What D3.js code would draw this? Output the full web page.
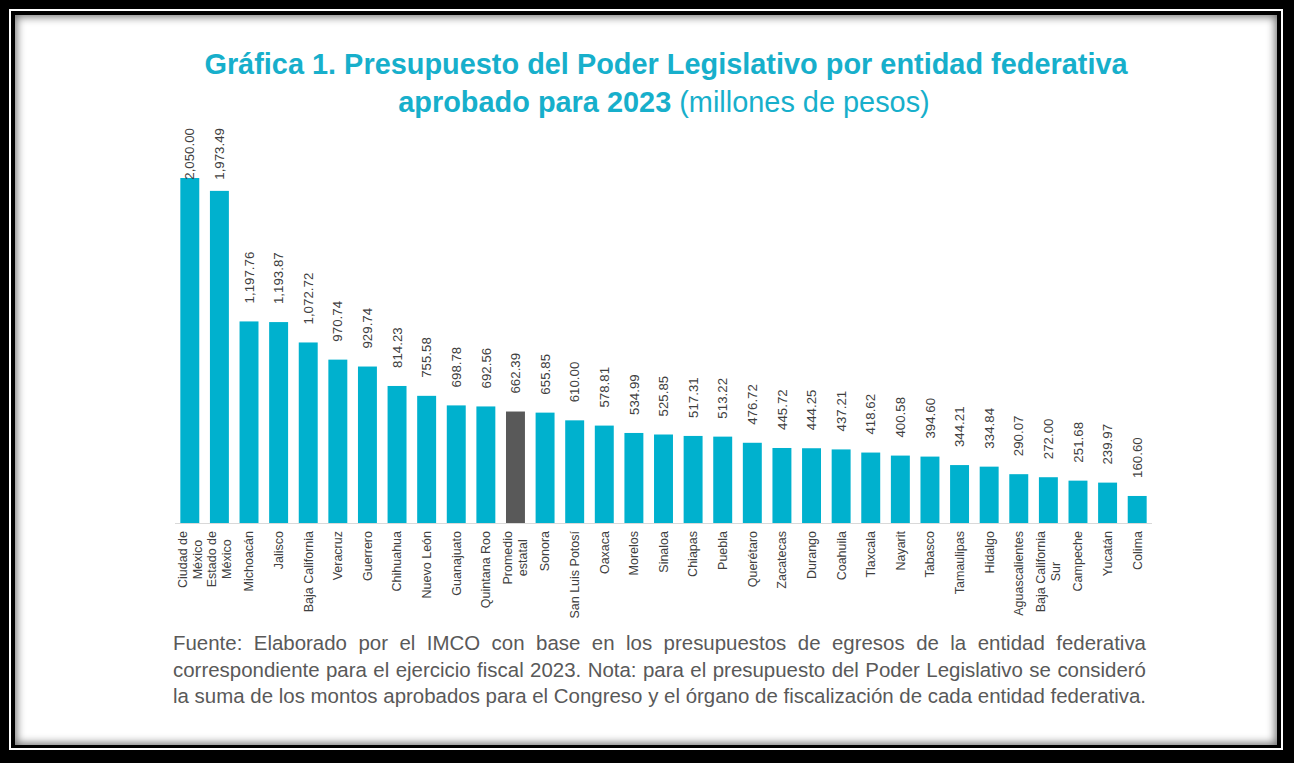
<!DOCTYPE html>
<html>
<head>
<meta charset="utf-8">
<script src="https://cdn.jsdelivr.net/npm/d3@7"></script>
<style>
    body { margin: 0; background: #000; width: 1294px; height: 763px; overflow: hidden; position: relative; }
    .frame { position: absolute; }
    #f1 { left: 9px; top: 9px; width: 1274px; height: 741px; background: #fff; }
    #f2 { left: 11px; top: 11px; width: 1270px; height: 737px; background: #000; }
    #f3 { left: 15px; top: 15px; width: 1262px; height: 730px; background: #fff;
          box-shadow: inset 0 0 9px 2px rgba(0, 0, 0, 0.55); }
    #chart { position: absolute; left: 0; top: 0; }
    text { font-family: "Liberation Sans", Arial, sans-serif; }
</style>
</head>
<body>
<div class="frame" id="f1"></div>
<div class="frame" id="f2"></div>
<div class="frame" id="f3"></div>
<div id="chart"></div>
<script>
// estados y presupuesto aprobado 2023 (millones de pesos)
const states = [
    ['Ciudad de', 'México'], ['Estado de', 'México'], ['Michoacán'], ['Jalisco'],
    ['Baja California'], ['Veracruz'], ['Guerrero'], ['Chihuahua'], ['Nuevo León'],
    ['Guanajuato'], ['Quintana Roo'], ['Promedio', 'estatal'], ['Sonora'],
    ['San Luis Potosí'], ['Oaxaca'], ['Morelos'], ['Sinaloa'], ['Chiapas'], ['Puebla'],
    ['Querétaro'], ['Zacatecas'], ['Durango'], ['Coahuila'], ['Tlaxcala'], ['Nayarit'],
    ['Tabasco'], ['Tamaulipas'], ['Hidalgo'], ['Aguascalientes'],
    ['Baja California', 'Sur'], ['Campeche'], ['Yucatán'], ['Colima']
]
const values = [
    2050.00, 1973.49, 1197.76, 1193.87, 1072.72, 970.74, 929.74, 814.23, 755.58,
    698.78, 692.56, 662.39, 655.85, 610.00, 578.81, 534.99, 525.85, 517.31, 513.22,
    476.72, 445.72, 444.25, 437.21, 418.62, 400.58, 394.60, 344.21, 334.84, 290.07,
    272.00, 251.68, 239.97, 160.60
]
const highlight = 'Promedio estatal'

const title_line_1 = 'Gráfica 1. Presupuesto del Poder Legislativo por entidad federativa'
const title_bold_2 = 'aprobado para 2023'
const title_rest_2 = ' (millones de pesos)'
const note_lines = [
    'Fuente: Elaborado por el IMCO con base en los presupuestos de egresos de la entidad federativa',
    'correspondiente para el ejercicio fiscal 2023. Nota: para el presupuesto del Poder Legislativo se consideró',
    'la suma de los montos aprobados para el Congreso y el órgano de fiscalización de cada entidad federativa.'
]

const width = 1294
const height = 763
const teal = '#00B1CE'
const grey = '#595959'
const text_color = '#404040'

const data = states.map((lines, i) => ({ key: lines.join(' '), lines, value: values[i] }))

const svg = d3.select('#chart').append('svg')
    .attr('width', width)
    .attr('height', height)

// titulo
const title = svg.append('g').attr('fill', '#17AFCB')
title.append('text')
    .attr('x', 666).attr('y', 74)
    .attr('text-anchor', 'middle')
    .attr('font-size', 28.9).attr('font-weight', 'bold')
    .text(title_line_1)
const t2 = title.append('text')
    .attr('x', 664).attr('y', 112)
    .attr('text-anchor', 'middle')
    .attr('font-size', 28.9)
t2.append('tspan').attr('font-weight', 'bold').text(title_bold_2)
t2.append('tspan').text(title_rest_2)

// barras
const x = d3.scaleBand()
    .domain(data.map(d => d.key))
    .range([175, 1152])
    .paddingInner(0.36)
    .paddingOuter(0.18)

const y = d3.scaleLinear()
    .domain([0, 2050])
    .range([523, 178])

const g = svg.append('g')

g.selectAll('rect')
    .data(data)
    .enter()
    .append('rect')
    .attr('x', d => x(d.key))
    .attr('y', d => y(d.value))
    .attr('width', x.bandwidth())
    .attr('height', d => y(0) - y(d.value))
    .attr('fill', d => d.key === highlight ? grey : teal)

g.append('line')
    .attr('x1', 175).attr('x2', 1152)
    .attr('y1', y(0) + 0.5).attr('y2', y(0) + 0.5)
    .attr('stroke', '#d9d9d9')
    .attr('stroke-width', 1)

// etiquetas de valor, giradas (no pasan del borde superior del área)
const fmt = d3.format(',.2f')
const top_limit = 128
g.append('g').selectAll('text')
    .data(data)
    .enter()
    .append('text')
    .attr('font-size', 13.3)
    .attr('fill', text_color)
    .attr('dy', '0.35em')
    .text(d => fmt(d.value))
    .each(function (d) {
        const len = this.getComputedTextLength()
        const cx = x(d.key) + x.bandwidth() / 2
        const start = Math.max(y(d.value) - 18, top_limit + len)
        d3.select(this).attr('transform', `translate(${ cx }, ${ start }) rotate(-90)`)
    })

// etiquetas de categoria
const line_h = 15
const cat = g.append('g').selectAll('g')
    .data(data)
    .enter()
    .append('g')
    .attr('font-size', 12.5)
    .attr('fill', text_color)

cat.each(function (d) {
    const cx = x(d.key) + x.bandwidth() / 2
    const el = d3.select(this)
    const n = d.lines.length
    const texts = d.lines.map((line, i) => el.append('text')
        .attr('dy', '0.35em')
        .text(line))
    const max_len = d3.max(texts, t => t.node().getComputedTextLength())
    texts.forEach((t, i) => {
        const tx = cx + (i - (n - 1) / 2) * line_h
        if (n === 1) {
            t.attr('text-anchor', 'end')
                .attr('transform', `translate(${ tx }, 531) rotate(-90)`)
        } else {
            t.attr('text-anchor', 'middle')
                .attr('transform', `translate(${ tx }, ${ 531 + max_len / 2 }) rotate(-90)`)
        }
    })
})

// nota al pie, justificada
const left = 173
const right = 1146
const note = svg.append('g')
    .attr('fill', grey)
// el tamaño se ajusta para que la última línea llene el ancho
const probe = note.append('text').attr('font-size', 17).text(note_lines[2])
const note_size = 17 * (right - left) / probe.node().getComputedTextLength()
probe.remove()
note.attr('font-size', note_size)

note_lines.forEach((line, i) => {
    const words = line.split(' ')
    const ts = words.map(w => note.append('text').attr('y', 650 + i * 26.5).text(w))
    const widths = ts.map(t => t.node().getComputedTextLength())
    const gap = (right - left - d3.sum(widths)) / (words.length - 1)
    let pos = left
    ts.forEach((t, j) => {
        t.attr('x', pos)
        pos += widths[j] + gap
    })
})
</script>
</body>
</html>
